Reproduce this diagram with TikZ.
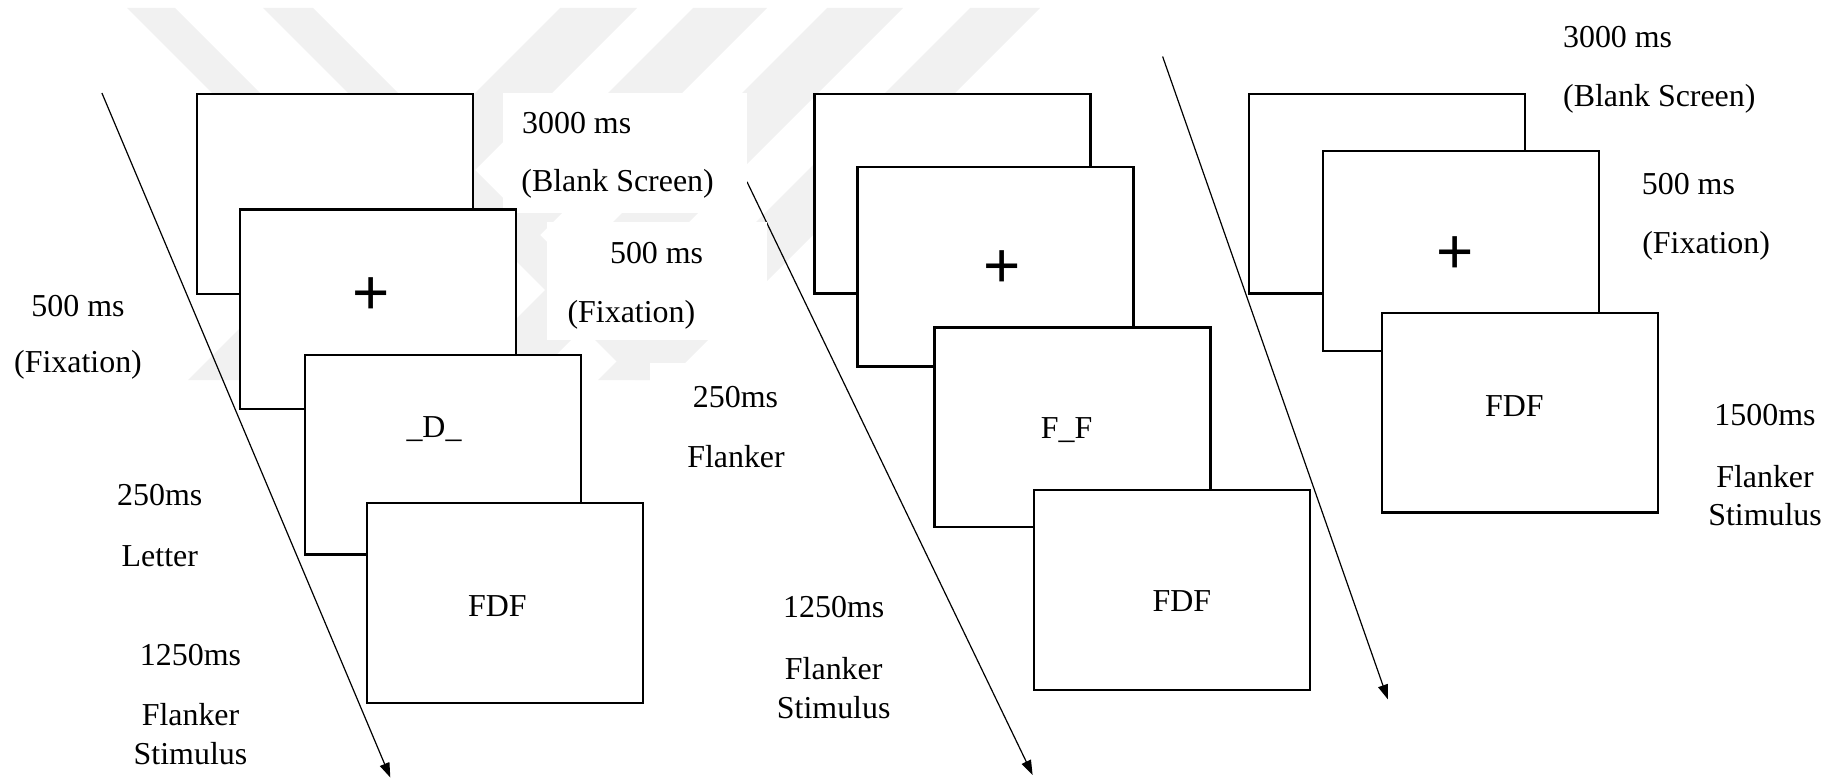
\documentclass[tikz,border=0pt]{standalone}
\usepackage{fontspec}
\setmainfont{Liberation Serif}
\newfontfamily\crossfont{Liberation Sans}
\usetikzlibrary{arrows.meta}
\definecolor{markgray}{RGB}{241,241,241}

\begin{document}
\begin{tikzpicture}[x=0.013216cm,y=-0.013216cm,
  every node/.style={font=\fontsize{12}{14}\selectfont,inner sep=0pt},
  screen/.style={draw,fill=white,line width=0.9pt,anchor=north west,
    minimum width=3.648cm,minimum height=2.637cm},
  fixcross/.style={font=\crossfont\fontsize{24}{28}\selectfont},
  timeline/.style={line width=0.45pt,-{Triangle[length=5.5pt,width=3.8pt]}}]
  \useasboundingbox (0,0) rectangle (1834,779);
  % faint watermark behind the trials
  \begin{scope}
    \clip (100,8) rectangle (1100,380);
    \foreach \a/\w in {127/48,263/50}
      \fill[markgray] (\a,8) -- ++(\w,0) -- ++(372,372) -- ++(-\w,0) -- cycle;
    \foreach \a/\w in {560/77,693/74,827/76,970/70}
      \fill[markgray] (\a,8) -- ++(\w,0) -- ++(-372,372) -- ++(-\w,0) -- cycle;
  \end{scope}
  % time arrows
  \coordinate (startA) at (101.9,93);
  \coordinate (endA) at (390.3,777.5);
  \coordinate (startB) at (747,181.8);
  \coordinate (endB) at (1032.6,774.9);
  \coordinate (startC) at (1162.6,56.5);
  \coordinate (endC) at (1387.8,699.3);
  \draw[timeline] (startA) -- (endA);
  \draw[timeline] (startB) -- (endB);
  \draw[timeline] (startC) -- (endC);
  \fill[white] (502.7,92.7) rectangle (746.7,213);
  \fill[white] (546.7,221.7) rectangle (766.7,340);
  \fill[white] (650,363) rectangle (830,480);
  % letter-flanker trial
  \node[screen] (a1) at (196,93) {};
  \node[screen] (a2) at (238.7,208.3) {};
  \node[screen] (a3) at (304,353.8) {};
  \node[screen] (a4) at (366,502) {};
  \node[fixcross] (fixA) at (371,296.5) {+};
  \node (letterA) at (434,429.6) {\_D\_};
  \node (flankA) at (497.3,606.4) {FDF};
  % flanker-flanker trial
  \node[screen] (b1) at (813.1,92.9) {};
  \node[screen] (b2) at (856.4,165.7) {};
  \node[screen] (b3) at (933.1,326.4) {};
  \node[screen] (b4) at (1032.6,489) {};
  \node[fixcross] (fixB) at (1002,269.2) {+};
  \node (letterB) at (1066.7,429.9) {F\_F};
  \node (flankB) at (1181.8,601.4) {FDF};
  % flanker only trial
  \node[screen] (c1) at (1247.9,92.9) {};
  \node[screen] (c2) at (1321.8,150.1) {};
  \node[screen] (c3) at (1380.7,311.7) {};
  \node[fixcross] (fixC) at (1455.3,255) {+};
  \node (flankC) at (1514.3,406.3) {FDF};
  % durations
  \node (blankA) at (576.7,123.3) {3000 ms};
  \node (blankAt) at (617.6,184) {(Blank Screen)};
  \node (fixAr) at (656.6,252.9) {500 ms};
  \node (fixArt) at (631.4,314.8) {(Fixation)};
  \node (flkAr) at (735.5,396.7) {250ms};
  \node (flkArt) at (736,456.7) {Flanker};
  \node (fixAl) at (78,305.6) {500 ms};
  \node (fixAlt) at (78,365) {(Fixation)};
  \node (letAl) at (159.8,495) {250ms};
  \node (letAlt) at (159.8,555.9) {Letter};
  \node (stimA) at (190.5,654.6) {1250ms};
  \node (stimAt) at (190.5,714.3) {Flanker};
  \node (stimAu) at (190.5,753.3) {Stimulus};
  \node (stimB) at (833.7,607.1) {1250ms};
  \node (stimBt) at (833.7,668.6) {Flanker};
  \node (stimBu) at (833.7,707.3) {Stimulus};
  \node (blankC) at (1617.6,37.4) {3000 ms};
  \node (blankCt) at (1659.3,99.1) {(Blank Screen)};
  \node (fixCr) at (1688.4,184.1) {500 ms};
  \node (fixCrt) at (1706.1,245.6) {(Fixation)};
  \node (stimC) at (1765,415) {1500ms};
  \node (stimCt) at (1765,476.7) {Flanker};
  \node (stimCu) at (1765,515) {Stimulus};
\end{tikzpicture}
\end{document}
